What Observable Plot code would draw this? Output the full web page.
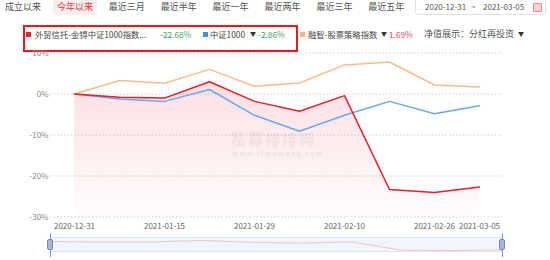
<!DOCTYPE html>
<html>
<head>
<meta charset="utf-8">
<script src="https://cdn.jsdelivr.net/npm/d3@7"></script>
<script src="https://cdn.jsdelivr.net/npm/@observablehq/plot@0.6"></script>
<style>
  html, body { margin: 0; padding: 0; background: #fff; }
  #root { position: relative; width: 550px; height: 260px; overflow: hidden; font-family: "Noto Sans CJK SC", "Noto Sans", sans-serif; }
  .abs { position: absolute; white-space: nowrap; }
  .tab { font-size: 9px; line-height: 14px; color: #555; top: 0; }
  .leg { font-size: 8.3px; line-height: 12px; top: 28px; color: #444; }
  .sq { width: 5px; height: 5px; top: 32px; }
  .arrow { font-size: 6px; line-height: 12px; top: 28px; color: #333; }
</style>
</head>
<body>
<div id="root"></div>
<script>
// ---- data ----
const dates = ["2020-12-31","2021-01-08","2021-01-15","2021-01-22","2021-01-29","2021-02-05","2021-02-10","2021-02-19","2021-02-26","2021-03-05"];
const fundValues = [0, -0.8, -1.0, 3.0, -1.8, -4.2, -0.4, -23.3, -24.0, -22.68];
const csi1000Values = [0, -1.2, -1.8, 1.1, -5.2, -9.1, -5.2, -1.8, -4.8, -2.86];
const strategyValues = [0, 3.3, 2.6, 6.0, 1.9, 2.7, 7.1, 7.8, 2.2, 1.69];
const yTicks = [-30, -20, -10, 0, 10];
const xTickLabels = ["2020-12-31","2021-01-15","2021-01-29","2021-02-10","2021-02-26","2021-03-05"];
const tabLabels = ["成立以来","今年以来","最近三月","最近半年","最近一年","最近两年","最近三年","最近五年"];
const activeTab = "今年以来";
const seriesNames = ["外贸信托-金锝中证1000指数...", "中证1000", "融智-股票策略指数"];
const seriesReturns = ["-22.68%", "-2.86%", "1.69%"];
const dateRange = ["2020-12-31", "2021-03-05"];

const rows = dates.map((d, i) => ({date: d, fund: fundValues[i], csi: csi1000Values[i], strat: strategyValues[i]}));

const root = document.getElementById("root");
function add(html) { root.insertAdjacentHTML("beforeend", html); }

// ---- tabs ----
tabLabels.forEach((t, i) => {
  const left = 5 + i * 51.9;
  if (t === activeTab) {
    add(`<div class="abs" style="left:${left - 4}px;top:0;width:44px;height:15px;background:#fdeeee;"></div>`);
    add(`<div class="abs tab" style="left:${left}px;color:#e8333a;">${t}</div>`);
  } else {
    add(`<div class="abs tab" style="left:${left}px;">${t}</div>`);
  }
});
// date box
add(`<div class="abs" style="left:415px;top:-3px;width:131px;height:18px;border:1px solid #e3e3e3;border-radius:3px;box-sizing:border-box;"></div>`);
add(`<div class="abs" style="left:425px;top:1px;font-size:8px;line-height:12px;color:#555;">${dateRange[0]}</div>`);
add(`<div class="abs" style="left:471px;top:1px;font-size:8px;line-height:12px;color:#555;">~</div>`);
add(`<div class="abs" style="left:483px;top:1px;font-size:8px;line-height:12px;color:#555;">${dateRange[1]}</div>`);
add(`<div class="abs" style="left:533px;top:3px;width:7px;height:7px;border:1px solid #f08a8a;background:#fbd0d0;border-radius:1px;"></div>`);

// ---- legend ----
add(`<div class="abs" style="left:23px;top:25px;width:275px;height:27px;border:2px solid #f2141e;box-sizing:border-box;"></div>`);
add(`<div class="abs sq" style="left:26px;background:#e6222e;"></div>`);
add(`<div class="abs leg" style="left:35px;">${seriesNames[0]}</div>`);
add(`<div class="abs leg" style="left:160px;color:#3aa757;">${seriesReturns[0]}</div>`);
add(`<div class="abs sq" style="left:203px;background:#3d8ee6;"></div>`);
add(`<div class="abs leg" style="left:210px;">${seriesNames[1]}</div>`);
add(`<div class="abs arrow" style="left:250px;">▼</div>`);
add(`<div class="abs leg" style="left:258px;color:#3aa757;">${seriesReturns[1]}</div>`);
add(`<div class="abs sq" style="left:300px;background:#f7b77c;"></div>`);
add(`<div class="abs leg" style="left:308px;">${seriesNames[2]}</div>`);
add(`<div class="abs arrow" style="left:381px;">▼</div>`);
add(`<div class="abs leg" style="left:389px;color:#f0445a;">${seriesReturns[2]}</div>`);
add(`<div class="abs leg" style="left:424px;color:#555;font-size:9px;">净值展示：分红再投资</div>`);
add(`<div class="abs arrow" style="left:518px;">▼</div>`);

// ---- main chart ----
const chart = Plot.plot({
  width: 550,
  height: 200,
  marginTop: 12.5,
  marginBottom: 23.5,
  marginLeft: 50,
  marginRight: 48,
  style: {fontFamily: "'Noto Sans CJK SC', 'Noto Sans', sans-serif", background: "transparent", overflow: "visible"},
  x: {type: "point", domain: dates, padding: 0.5},
  y: {domain: [-30, 10]},
  marks: [
    Plot.ruleY(yTicks, {stroke: "#cfcfcf", strokeDasharray: "1.5,2", strokeWidth: 1}),
    Plot.areaY(rows, {x: "date", y1: -30, y2: "fund", fill: "url(#fundGrad)", curve: "linear"}),
    Plot.lineY(rows, {x: "date", y: "strat", stroke: "#f8bd8a", strokeWidth: 1.5}),
    Plot.lineY(rows, {x: "date", y: "csi", stroke: "#66aaf2", strokeWidth: 1.5}),
    Plot.lineY(rows, {x: "date", y: "fund", stroke: "#ef1c2c", strokeWidth: 1.5}),
    Plot.axisY(yTicks, {tickSize: 0, tickPadding: 2, tickFormat: d => d + "%", fontSize: 8, fill: "#888", label: null}),
    Plot.axisX(xTickLabels, {tickSize: 0, tickPadding: 6, fontSize: 8, fill: "#666", label: null})
  ]
});
const ns = "http://www.w3.org/2000/svg";
const defs = document.createElementNS(ns, "defs");
defs.innerHTML = `<linearGradient id="fundGrad" x1="0" y1="0" x2="0" y2="1">
  <stop offset="0" stop-color="#ef1c2c" stop-opacity="0.14"/>
  <stop offset="1" stop-color="#ef1c2c" stop-opacity="0.01"/>
</linearGradient>`;
chart.insertBefore(defs, chart.firstChild);
chart.style.position = "absolute";
chart.style.left = "0px";
chart.style.top = "40px";
root.appendChild(chart);

// watermark
add(`<div class="abs" style="left:231px;top:131px;font-size:15px;line-height:16px;font-weight:bold;letter-spacing:2px;color:rgba(150,150,150,0.15);">私募排排网</div>`);
add(`<div class="abs" style="left:232px;top:149px;font-size:7px;line-height:9px;font-weight:bold;letter-spacing:1.2px;color:rgba(150,150,150,0.17);">www.simuwang.com</div>`);

// ---- slider ----
add(`<div class="abs" style="left:50px;top:237px;width:452px;height:15px;background:#f1f5fc;border:1px solid #dfe5f0;box-sizing:border-box;"></div>`);
const mini = Plot.plot({
  width: 452, height: 15, margin: 0, marginTop: 3, marginBottom: 2,
  style: {background: "transparent"},
  x: {type: "point", domain: dates, padding: 0, axis: null},
  y: {axis: null},
  marks: [Plot.lineY(rows, {x: "date", y: "fund", stroke: "#f3c6c8", strokeWidth: 1})]
});
mini.style.position = "absolute";
mini.style.left = "50px";
mini.style.top = "237px";
root.appendChild(mini);
[50, 502].forEach(x => {
  add(`<div class="abs" style="left:${x - 0.5}px;top:233px;width:1px;height:24px;background:#8596c4;"></div>`);
  add(`<div class="abs" style="left:${x - 3}px;top:239px;width:6px;height:11px;background:#a9b6dc;border:1px solid #7286bf;border-radius:2px;box-sizing:border-box;"></div>`);
});
</script>
</body>
</html>
